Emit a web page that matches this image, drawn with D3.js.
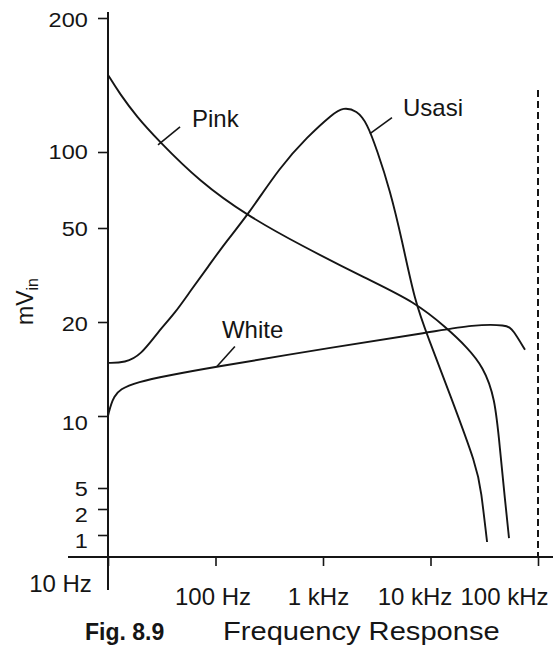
<!DOCTYPE html>
<html>
<head>
<meta charset="utf-8">
<script src="https://cdn.jsdelivr.net/npm/d3@7"></script>
<style>
  html, body { margin: 0; padding: 0; background: #fff; }
  svg { display: block; font-family: "Liberation Sans", Arial, sans-serif; }
</style>
</head>
<body>
<svg id="chart" width="554" height="656"></svg>
<script>
/* global d3 */
// values (frequency in Hz, level in mV)
const yTicks = [1, 2, 5, 10, 20, 50, 100, 200];
const xTicks = [10, 100, 1000, 10000, 100000];
const xTickLabels = ['10 Hz', '100 Hz', '1 kHz', '10 kHz', '100 kHz'];

const pinkFreq = [10, 12.9, 18.6, 28.6, 71.7, 200, 611, 2566, 7173, 14230, 21870, 30780, 39810, 44360, 49350, 53740];
const pinkMv = [149, 135, 119.9, 106.9, 76.1, 55.8, 42.4, 30.4, 24.3, 19.1, 16.6, 14.4, 11.5, 7.2, 2.96, 0.92];

const usasiFreq = [10, 14.4, 20.3, 29.2, 42, 59.2, 85.1, 122.5, 200, 398, 710, 1240, 1535, 2070, 2570, 3180, 4200, 5430, 7170, 9480, 15200, 27100, 29500, 33600];
const usasiMv = [14.8, 14.8, 15.7, 18.6, 21.8, 27.3, 34.2, 43.2, 56.3, 87.2, 108, 122, 126, 124, 116, 101, 70.7, 44.5, 24.3, 17.9, 11.7, 6.1, 4.58, 0.83];

const whiteFreq = [10, 11.1, 15, 103, 1240, 10500, 24800, 51500, 58500, 75700];
const whiteMv = [10, 11.6, 12.8, 14.4, 16.6, 18.6, 19.6, 19.6, 18.9, 16.3];

const labelNames = ['Pink', 'Usasi', 'White'];
const labelFreq = [29.2, 2735, 103];
const labelMv = [103.7, 110, 14.4];

// layout
const svg = d3.select('#chart');
const ink = '#151515';
const yTickPos = [535, 509, 488, 416, 322, 228, 152, 18]; // the printed axis is not evenly spaced
const yNudge = [6, 6, 1, 7, 2, 1, 0, 2];
const x = d3.scaleLog().domain([10, 100000]).range([108, 538]);
const y = d3.scaleLog().domain(yTicks).range(yTickPos);
const axisY = 557;

svg.append('rect').attr('width', 554).attr('height', 656).attr('fill', '#fff');

// y axis
const gy = svg.append('g')
  .attr('transform', `translate(${x(10)},0)`)
  .call(d3.axisLeft(y).tickValues(yTicks).tickFormat(d3.format('d')).tickSize(10).tickPadding(8));
gy.select('.domain').remove();
gy.selectAll('.tick line').attr('stroke', ink).attr('stroke-width', 1.6);
gy.selectAll('.tick text')
  .attr('fill', ink)
  .attr('font-size', 21)
  .attr('dy', '0.32em')
  .attr('y', (d, i) => yNudge[i])
  .attr('transform', 'scale(1.12,1)');
svg.append('line')
  .attr('x1', x(10)).attr('x2', x(10))
  .attr('y1', 12).attr('y2', 590)
  .attr('stroke', ink).attr('stroke-width', 2);

// x axis
const xShift = [-48, -3, -5, -16, -34];
const gx = svg.append('g')
  .attr('transform', `translate(0,${axisY})`)
  .call(d3.axisBottom(x).tickValues(xTicks).tickFormat((d, i) => xTickLabels[i]).tickSize(9).tickPadding(22));
gx.select('.domain').remove();
gx.selectAll('.tick line').attr('stroke', ink).attr('stroke-width', 1.6);
gx.selectAll('.tick text')
  .attr('fill', ink)
  .attr('font-size', 24)
  .attr('dx', (d, i) => xShift[i])
  .attr('y', (d, i) => (i === 0 ? 18 : 31));
svg.append('line')
  .attr('x1', 68).attr('x2', 553)
  .attr('y1', axisY).attr('y2', axisY)
  .attr('stroke', ink).attr('stroke-width', 2);

// dashed limit at 100 kHz
svg.append('line')
  .attr('x1', x(100000)).attr('x2', x(100000))
  .attr('y1', 90).attr('y2', axisY)
  .attr('stroke', ink).attr('stroke-width', 2)
  .attr('stroke-dasharray', '7,4');

// curves
const line = d3.line()
  .x(d => x(d[0]))
  .y(d => y(d[1]))
  .curve(d3.curveBasis);
const series = [
  d3.zip(pinkFreq, pinkMv),
  d3.zip(usasiFreq, usasiMv),
  d3.zip(whiteFreq, whiteMv),
];
svg.append('g').selectAll('path')
  .data(series)
  .join('path')
  .attr('d', line)
  .attr('fill', 'none')
  .attr('stroke', ink)
  .attr('stroke-width', 1.9);

// curve labels with leader lines
const leadOff = [[22, -18], [22, -16], [18, -20]];
const textOff = [[34, -18], [33, -18], [5, -29]];
const gLab = svg.append('g');
labelNames.forEach((name, i) => {
  const px = x(labelFreq[i]);
  const py = y(labelMv[i]);
  gLab.append('line')
    .attr('x1', px).attr('y1', py)
    .attr('x2', px + leadOff[i][0]).attr('y2', py + leadOff[i][1])
    .attr('stroke', ink).attr('stroke-width', 1.6);
  gLab.append('text')
    .attr('x', px + textOff[i][0]).attr('y', py + textOff[i][1])
    .attr('font-size', 24)
    .attr('fill', ink)
    .text(name);
});

// axis title, rotated
const yt = svg.append('text')
  .attr('transform', 'translate(33,325) rotate(-90)')
  .attr('font-size', 23)
  .attr('fill', ink);
yt.append('tspan').text('mV');
yt.append('tspan').attr('font-size', 16).attr('dy', 5).text('in');

// caption
svg.append('text')
  .attr('x', 85).attr('y', 640)
  .attr('font-size', 23)
  .attr('font-weight', 'bold')
  .attr('fill', ink)
  .text('Fig. 8.9');
svg.append('text')
  .attr('transform', 'translate(223,640) scale(1.12,1)')
  .attr('font-size', 26)
  .attr('fill', ink)
  .text('Frequency Response');
</script>
</body>
</html>
